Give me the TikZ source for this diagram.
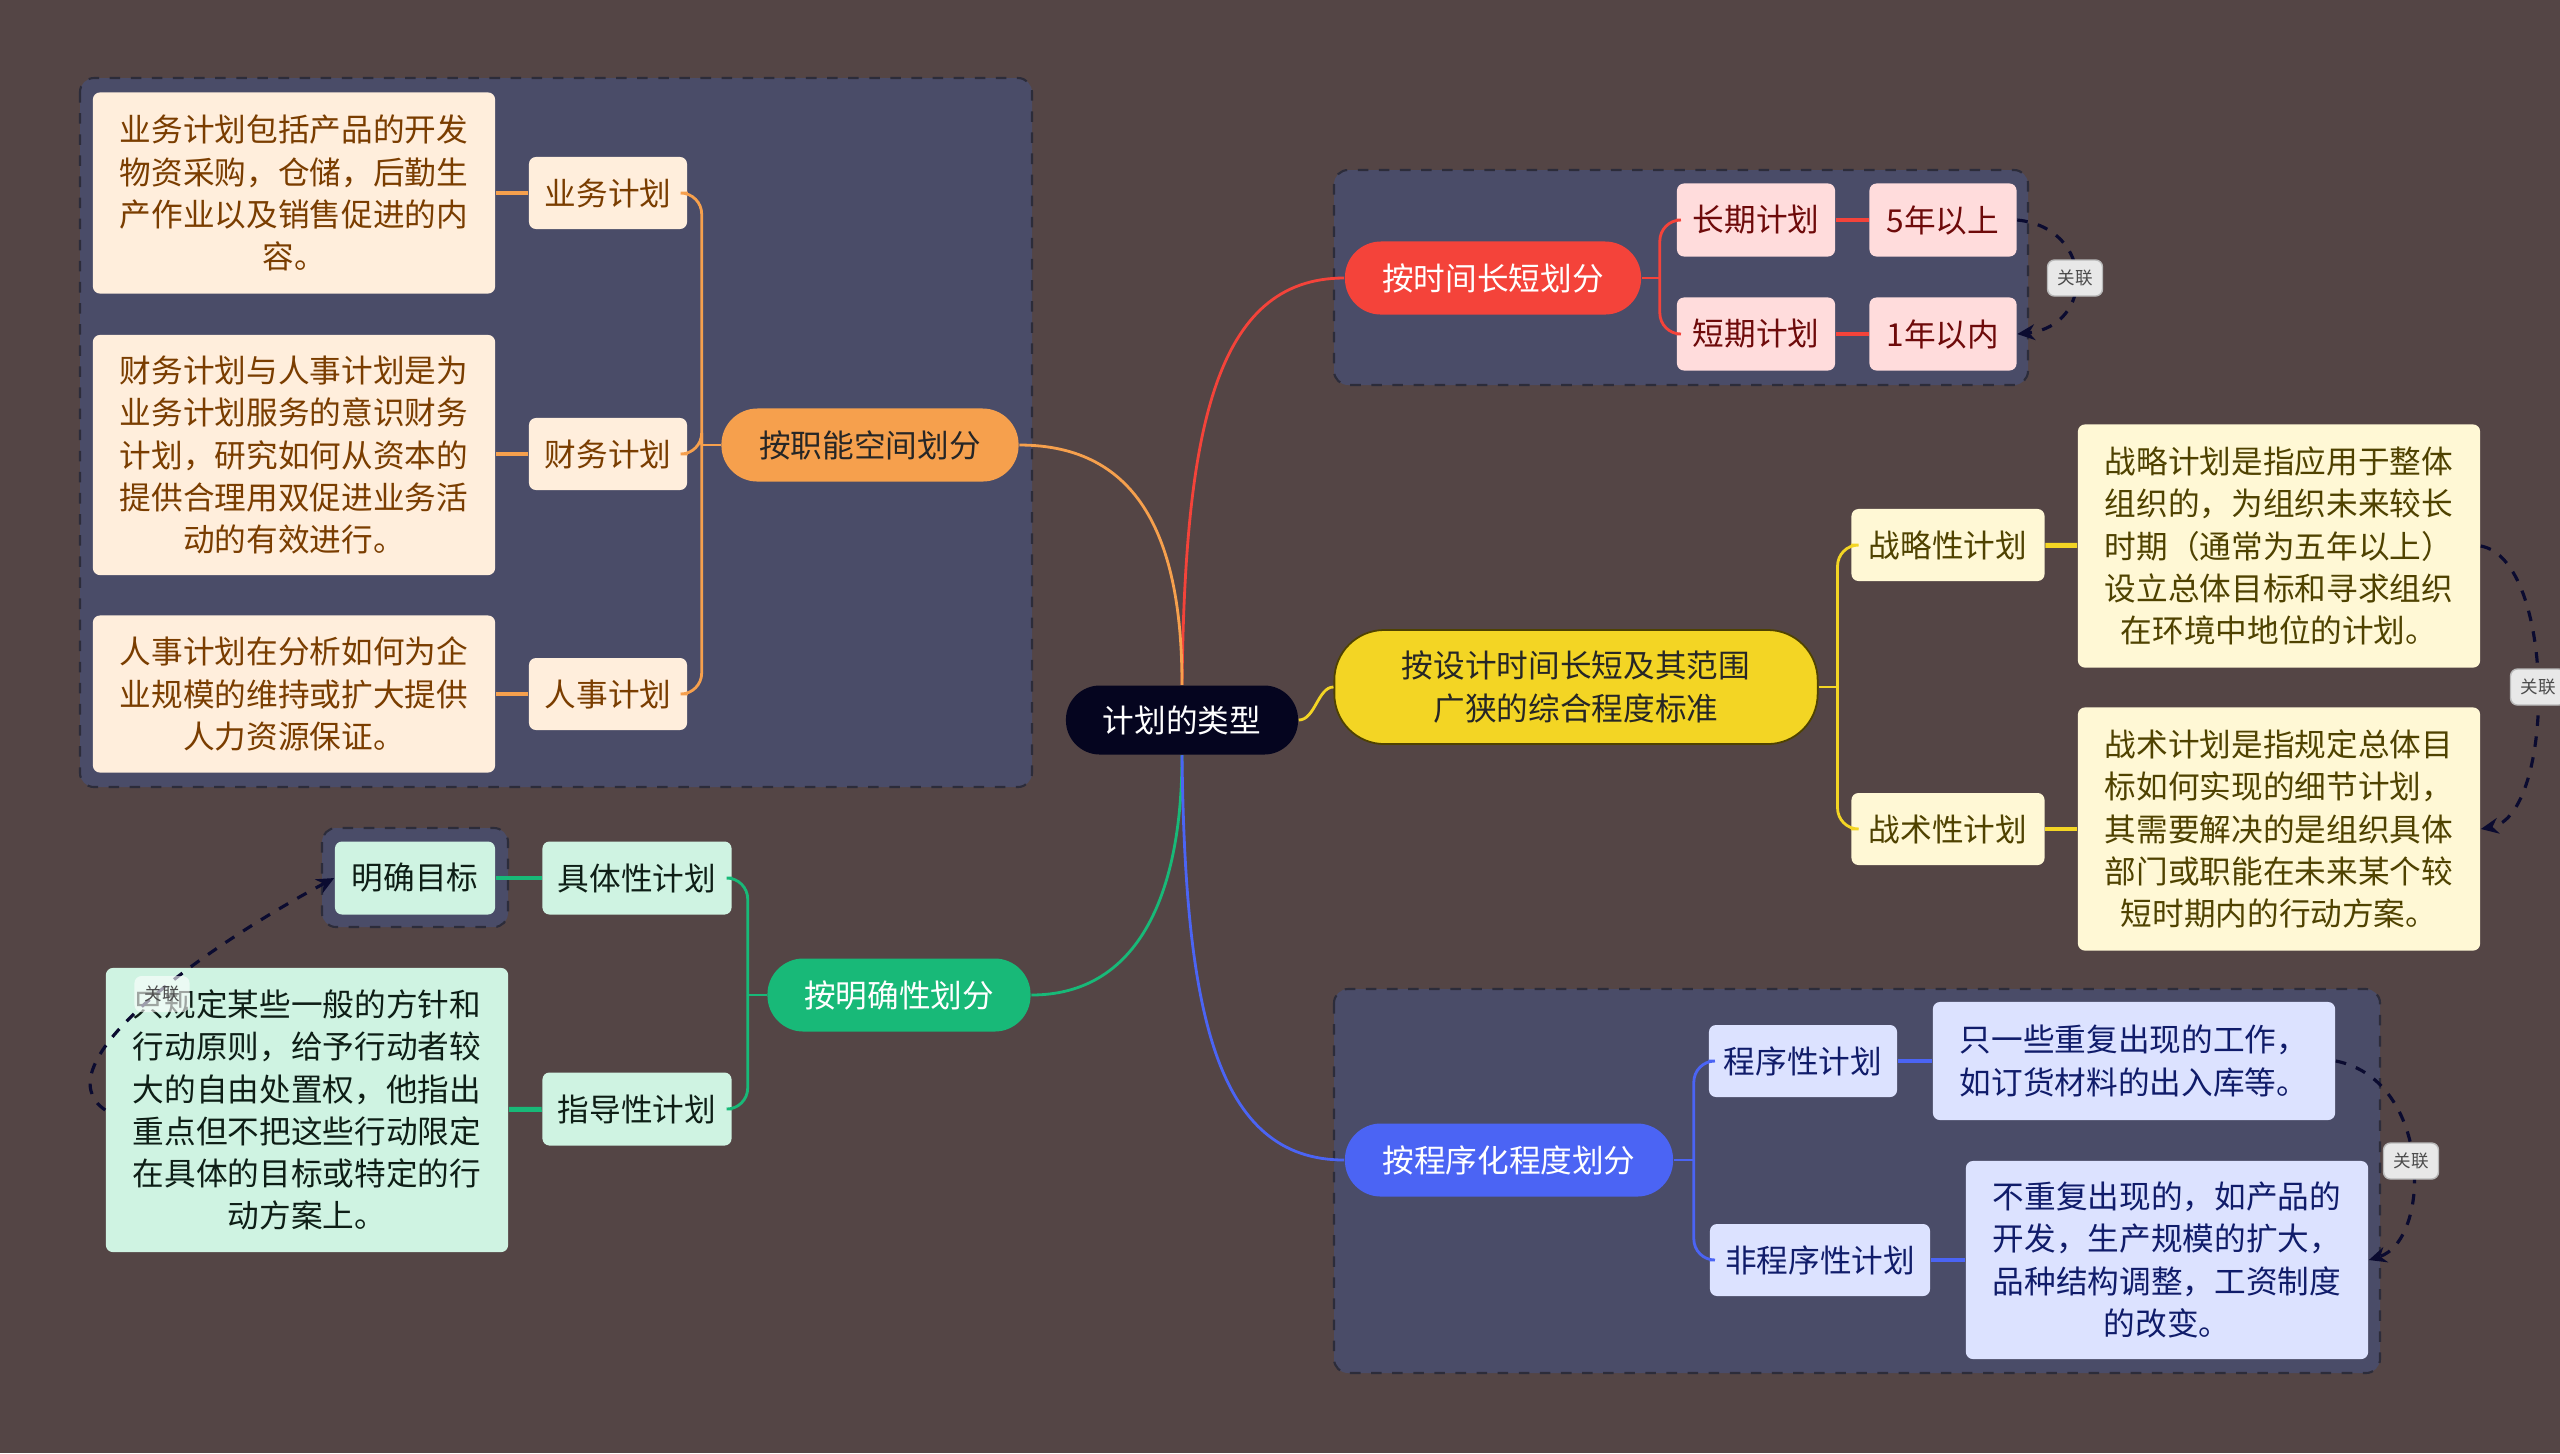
\documentclass[tikz,border=0pt]{standalone}
\usepackage{fontspec}
\setmainfont{Noto Sans CJK SC}
\usepackage{tikz}
\usepackage{xcolor}
\usetikzlibrary{shapes,arrows,arrows.meta,positioning,calc}

\definecolor{bgc}{HTML}{544545}
\definecolor{grpfill}{HTML}{4A4C68}
\definecolor{grpline}{HTML}{2C2C3A}
\definecolor{rootc}{HTML}{05051F}
\definecolor{relc}{HTML}{0B0B30}
\definecolor{orac}{HTML}{F6A04D}
\definecolor{orafill}{HTML}{FFEEDC}
\definecolor{oratext}{HTML}{7A3D00}
\definecolor{redc}{HTML}{F4433A}
\definecolor{redfill}{HTML}{FFDCDC}
\definecolor{redtext}{HTML}{6E0A0A}
\definecolor{yelc}{HTML}{F3D524}
\definecolor{yelfill}{HTML}{FFF8D5}
\definecolor{yeltext}{HTML}{4F4200}
\definecolor{grec}{HTML}{18B978}
\definecolor{grefill}{HTML}{CFF3E2}
\definecolor{gretext}{HTML}{0E1E16}
\definecolor{bluc}{HTML}{4B64F4}
\definecolor{blufill}{HTML}{DCE2FF}
\definecolor{blutext}{HTML}{101C6A}

\begin{document}
\begin{tikzpicture}[x=0.01cm,y=-0.01cm,
    font=\fontsize{9}{12}\selectfont,
    group/.style={draw=grpline, fill=grpfill, dashed, line width=0.6pt, rounded corners=4pt},
    topic/.style={fill=#1, rounded corners=0.36cm, minimum height=0.73cm, inner sep=2pt, align=center},
    sub/.style={fill=#1, rounded corners=2pt, minimum height=0.72cm, inner sep=2pt, align=center},
    desc/.style={fill=#1, rounded corners=2pt, minimum width=4.02cm, inner sep=2pt, align=center},
    tag/.style={draw=gray!55, fill=gray!18, rounded corners=2pt, text=black!70,
        font=\fontsize{5}{6}\selectfont, minimum width=0.55cm, minimum height=0.36cm, inner sep=1pt},
    rel/.style={draw=relc, dashed, line width=0.9pt, -{Stealth[length=5pt,width=4.5pt]}},
    link/.style={line width=0.8pt},
    leaf/.style={line width=1.4pt}
]
    % Background
    \fill[bgc] (0,0) rectangle (2560,1453);
    \useasboundingbox (0,0) rectangle (2560,1453);

    % Groups
    \draw[group] (80,78) rectangle (1032,787);
    \draw[group] (1334,170) rectangle (2028,385);
    \draw[group] (1334,989) rectangle (2380,1373);
    \draw[group] (322,828) rectangle (508,927);

    % Root
    \node[fill=rootc, text=white, rounded corners=0.34cm, minimum width=2.32cm, minimum height=0.69cm]
        (root) at (1182,720) {计划的类型};

    % Branches
    \node[topic=orac, text=black!85, minimum width=2.97cm] (fn) at (870,445) {按职能空间划分};
    \node[topic=redc, text=white, minimum width=2.96cm] (tm) at (1493,278) {按时间长短划分};
    \node[topic=yelc, draw=yeltext, line width=0.5pt, text=black!85, rounded corners=0.5cm,
        minimum width=4.83cm, minimum height=1.14cm] (sc) at (1576,687)
        {按设计时间长短及其范围\\广狭的综合程度标准};
    \node[topic=grec, text=white, minimum width=2.63cm] (cl) at (899,995) {按明确性划分};
    \node[topic=bluc, text=white, minimum width=3.28cm] (pg) at (1509,1160) {按程序化程度划分};

    % Function space
    \node[sub=orafill, text=oratext, minimum width=1.58cm] (fn1) at (608,193) {业务计划};
    \node[sub=orafill, text=oratext, minimum width=1.58cm] (fn2) at (608,454) {财务计划};
    \node[sub=orafill, text=oratext, minimum width=1.58cm] (fn3) at (608,694) {人事计划};
    \node[desc=orafill, text=oratext, minimum height=2.01cm] (fn1d) at (294,193)
        {业务计划包括产品的开发\\物资采购，仓储，后勤生\\产作业以及销售促进的内\\容。};
    \node[desc=orafill, text=oratext, minimum height=2.40cm] (fn2d) at (294,455)
        {财务计划与人事计划是为\\业务计划服务的意识财务\\计划，研究如何从资本的\\提供合理用双促进业务活\\动的有效进行。};
    \node[desc=orafill, text=oratext, minimum height=1.57cm] (fn3d) at (294,694)
        {人事计划在分析如何为企\\业规模的维持或扩大提供\\人力资源保证。};

    % Time length
    \node[sub=redfill, text=redtext, minimum width=1.58cm, minimum height=0.73cm] (tm1) at (1756,220) {长期计划};
    \node[sub=redfill, text=redtext, minimum width=1.58cm, minimum height=0.73cm] (tm2) at (1756,334) {短期计划};
    \node[sub=redfill, text=redtext, minimum width=1.47cm, minimum height=0.73cm] (tm1d) at (1943,220) {5年以上};
    \node[sub=redfill, text=redtext, minimum width=1.47cm, minimum height=0.73cm] (tm2d) at (1943,334) {1年以内};

    % Scope
    \node[sub=yelfill, text=yeltext, minimum width=1.93cm] (sc1) at (1948,545) {战略性计划};
    \node[sub=yelfill, text=yeltext, minimum width=1.93cm] (sc2) at (1948,829) {战术性计划};
    \node[desc=yelfill, text=yeltext, minimum height=2.43cm] (sc1d) at (2279,546)
        {战略计划是指应用于整体\\组织的，为组织未来较长\\时期（通常为五年以上）\\设立总体目标和寻求组织\\在环境中地位的计划。};
    \node[desc=yelfill, text=yeltext, minimum height=2.43cm] (sc2d) at (2279,829)
        {战术计划是指规定总体目\\标如何实现的细节计划，\\其需要解决的是组织具体\\部门或职能在未来某个较\\短时期内的行动方案。};

    % Clarity
    \node[sub=grefill, text=gretext, minimum width=1.89cm, minimum height=0.73cm] (cl1) at (637,878) {具体性计划};
    \node[sub=grefill, text=gretext, minimum width=1.89cm, minimum height=0.73cm] (cl2) at (637,1109) {指导性计划};
    \node[sub=grefill, text=gretext, minimum width=1.60cm, minimum height=0.73cm] (cl1d) at (415,878) {明确目标};
    \node[desc=grefill, text=gretext, minimum height=2.84cm] (cl2d) at (307,1110)
        {只规定某些一般的方针和\\行动原则，给予行动者较\\大的自由处置权，他指出\\重点但不把这些行动限定\\在具体的目标或特定的行\\动方案上。};

    % Programming
    \node[sub=blufill, text=blutext, minimum width=1.88cm] (pg1) at (1803,1061) {程序性计划};
    \node[sub=blufill, text=blutext, minimum width=2.20cm] (pg2) at (1820,1260) {非程序性计划};
    \node[desc=blufill, text=blutext, minimum height=1.18cm] (pg1d) at (2134,1061)
        {只一些重复出现的工作，\\如订货材料的出入库等。};
    \node[desc=blufill, text=blutext, minimum height=1.98cm] (pg2d) at (2167,1260)
        {不重复出现的，如产品的\\开发，生产规模的扩大，\\品种结构调整，工资制度\\的改变。};

    % Root to branches
    \draw[link, redc] (root.north) .. controls (1185,430) and (1215,278) .. (tm.west);
    \draw[link, orac] (root.north) .. controls (1182,540) and (1140,445) .. (fn.east);
    \draw[link, yelc] (root.east) .. controls (1315,720) and (1318,687) .. (sc.west);
    \draw[link, grec] (root.south) .. controls (1182,900) and (1135,995) .. (cl.east);
    \draw[link, bluc] (root.south) .. controls (1185,1010) and (1215,1160) .. (pg.west);

    % Branches to children
    \draw[link, orac] (fn.west) -- ++(-19,0) coordinate (fnj);
    \foreach \c in {fn1,fn2,fn3}
        \draw[link, orac, rounded corners=6pt] (fnj) |- (\c.east);
    \draw[link, redc] (tm.east) -- ++(18,0) coordinate (tmj);
    \foreach \c in {tm1,tm2}
        \draw[link, redc, rounded corners=6pt] (tmj) |- (\c.west);
    \draw[link, yelc] (sc.east) -- ++(19,0) coordinate (scj);
    \foreach \c in {sc1,sc2}
        \draw[link, yelc, rounded corners=6pt] (scj) |- (\c.west);
    \draw[link, grec] (cl.west) -- ++(-19,0) coordinate (clj);
    \foreach \c in {cl1,cl2}
        \draw[link, grec, rounded corners=6pt] (clj) |- (\c.east);
    \draw[link, bluc] (pg.east) -- ++(20,0) coordinate (pgj);
    \foreach \c in {pg1,pg2}
        \draw[link, bluc, rounded corners=6pt] (pgj) |- (\c.west);

    % Children to details
    \draw[leaf, orac] (fn1) -- (fn1d);
    \draw[leaf, orac] (fn2.west) -- (fn2.west -| fn2d.east);
    \draw[leaf, orac] (fn3) -- (fn3d);
    \draw[leaf, redc] (tm1) -- (tm1d);
    \draw[leaf, redc] (tm2) -- (tm2d);
    \draw[leaf, yelc] (sc1) -- (sc1d);
    \draw[leaf, yelc] (sc2) -- (sc2d);
    \draw[leaf, grec] (cl1) -- (cl1d);
    \draw[leaf, grec] (cl2) -- (cl2d);
    \draw[leaf, bluc] (pg1) -- (pg1d);
    \draw[leaf, bluc] (pg2) -- (pg2d);

    % Relations
    \draw[rel] (tm1d.east) .. controls (2095,228) and (2095,326) .. (tm2d.east);
    \draw[rel] (sc1d.east) .. controls (2556,560) and (2556,815) .. (sc2d.east);
    \draw[rel] (pg1d.east) .. controls (2432,1080) and (2432,1240) .. (pg2d.east);
    \draw[rel] (cl2d.west) .. controls (40,1065) and (200,950) .. (cl1d.west);
    \node[tag] (r1) at (2075,278) {关联};
    \node[tag] (r2) at (2538,687) {关联};
    \node[tag] (r3) at (2411,1161) {关联};
    \node[tag, fill=white, fill opacity=0.6, text opacity=1, draw=none] (r4) at (162,994) {关联};
\end{tikzpicture}
\end{document}
